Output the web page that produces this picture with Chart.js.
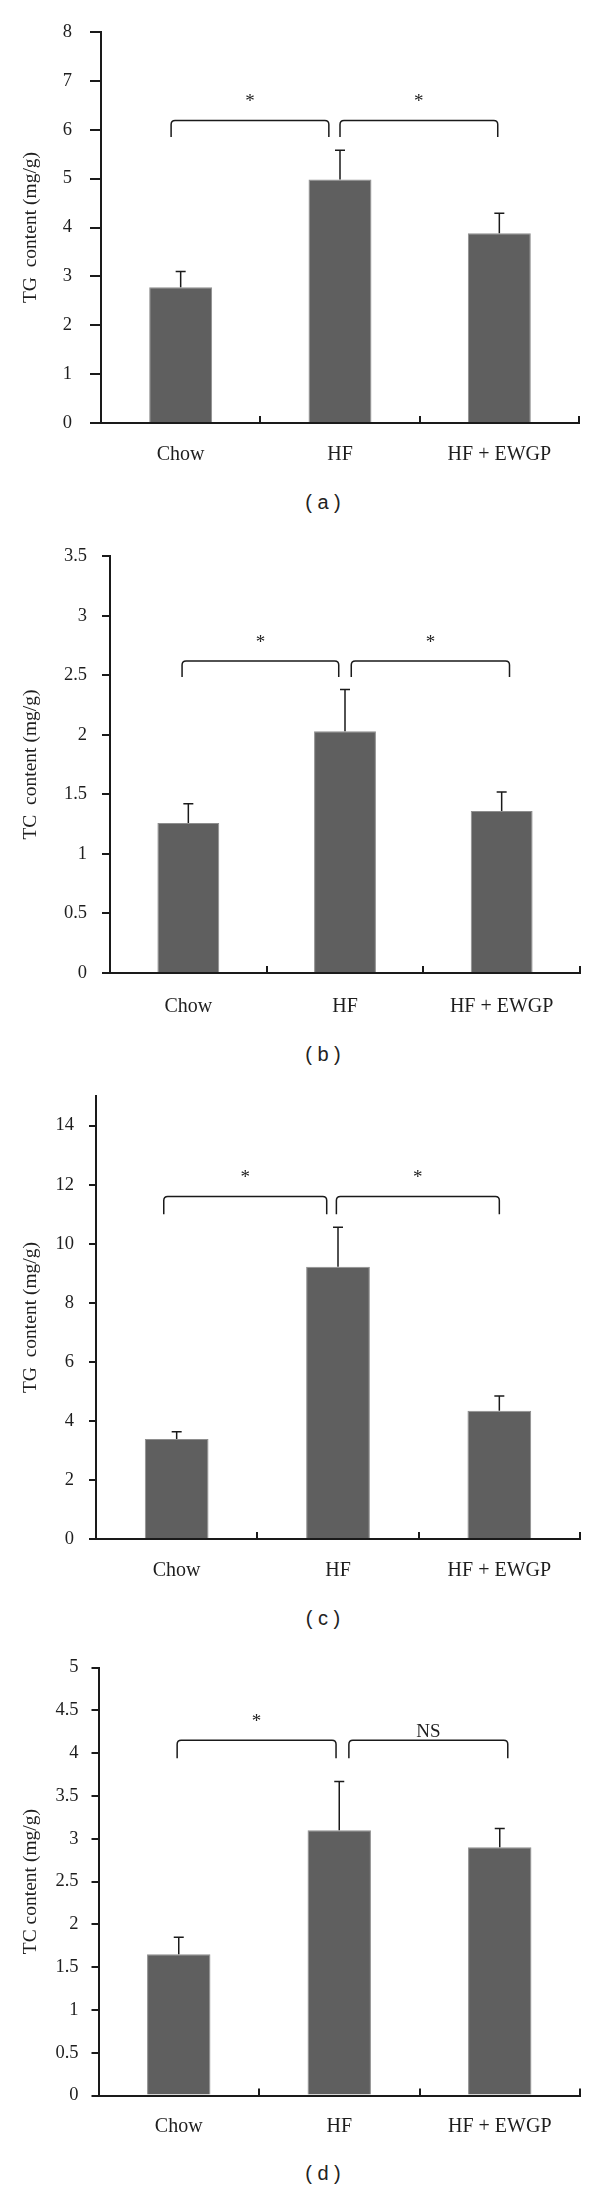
<!DOCTYPE html>
<html>
<head>
<meta charset="utf-8">
<script src="https://cdn.jsdelivr.net/npm/chart.js@4.4.1/dist/chart.umd.min.js"></script>
<style>
  html, body { margin: 0; padding: 0; background: #fff; }
  body { position: relative; width: 600px; height: 2190px; overflow: hidden; }
  canvas { position: absolute; left: 0; }
  .caption { position: absolute; left: 273px; width: 100px; height: 24px; line-height: 24px; text-align: center;
    font: 20px "Liberation Sans", Arial, sans-serif; color: #222; white-space: pre; }
</style>
</head>
<body>
<canvas id="chart-a"></canvas>
<canvas id="chart-b"></canvas>
<canvas id="chart-c"></canvas>
<canvas id="chart-d"></canvas>
<div class="caption" id="cap-a">( a )</div>
<div class="caption" id="cap-b">( b )</div>
<div class="caption" id="cap-c">( c )</div>
<div class="caption" id="cap-d">( d )</div>
<script>
const categories = ["Chow", "HF", "HF + EWGP"]

// (a) TG content
const aMean = [2.78, 4.98, 3.88]
const aErr = [0.32, 0.60, 0.41]
const aTicks = [0, 1, 2, 3, 4, 5, 6, 7, 8]
const aSig = ["*", "*"]
const aSigFrom = [-0.06, 1.0]
const aSigTo = [0.93, 1.99]
const aSigLevel = [6.19, 5.85]

// (b) TC content
const bMean = [1.26, 2.03, 1.36]
const bErr = [0.16, 0.35, 0.16]
const bTicks = [0, 0.5, 1, 1.5, 2, 2.5, 3, 3.5]
const bSig = ["*", "*"]
const bSigFrom = [-0.04, 1.04]
const bSigTo = [0.96, 2.05]
const bSigLevel = [2.62, 2.485]

// (c) TG content
const cMean = [3.39, 9.22, 4.34]
const cErr = [0.24, 1.34, 0.50]
const cTicks = [0, 2, 4, 6, 8, 10, 12, 14]
const cSig = ["*", "*"]
const cSigFrom = [-0.08, 0.99]
const cSigTo = [0.93, 2.0]
const cSigLevel = [11.6, 11.0]

// (d) TC content
const dMean = [1.65, 3.10, 2.90]
const dErr = [0.20, 0.57, 0.22]
const dTicks = [0, 0.5, 1, 1.5, 2, 2.5, 3, 3.5, 4, 4.5, 5]
const dSig = ["*", "NS"]
const dSigFrom = [-0.01, 1.06]
const dSigTo = [0.98, 2.05]
const dSigLevel = [4.15, 3.94]

const SERIF = '"Liberation Serif", "Times New Roman", serif'
const INK = "#1e1e1e"
const AXIS = "#1a1a1a"
const BAR = "#5f5f5f"
const BAR_EDGE = "#8e8e8e"

const panels = [
  { id: "a", title: "TG  content (mg/g)", mean: aMean, err: aErr, ticks: aTicks, max: 8,
    sig: aSig, sigFrom: aSigFrom, sigTo: aSigTo, sigLevel: aSigLevel,
    top: 0, height: 485, left: 101, right: 579, plotTop: 32, zero: 423, yTick: 11, yPad: 18, xPad: 27, caption: 503 },
  { id: "b", title: "TC  content (mg/g)", mean: bMean, err: bErr, ticks: bTicks, max: 3.5,
    sig: bSig, sigFrom: bSigFrom, sigTo: bSigTo, sigLevel: bSigLevel,
    top: 530, height: 505, left: 110, right: 580, plotTop: 552, zero: 973, yTick: 8, yPad: 15, xPad: 29, caption: 1055 },
  { id: "c", title: "TG  content (mg/g)", mean: cMean, err: cErr, ticks: cTicks, max: 15,
    sig: cSig, sigFrom: cSigFrom, sigTo: cSigTo, sigLevel: cSigLevel,
    top: 1070, height: 535, left: 96, right: 580, plotTop: 1092, zero: 1539, yTick: 7, yPad: 15, xPad: 27, caption: 1619 },
  { id: "d", title: "TC content (mg/g)", mean: dMean, err: dErr, ticks: dTicks, max: 5,
    sig: dSig, sigFrom: dSigFrom, sigTo: dSigTo, sigLevel: dSigLevel,
    top: 1640, height: 520, left: 98.5, right: 580, plotTop: 1667.6, zero: 2095.6, yTick: 7, yPad: 13, xPad: 26, caption: 2174 }
]

const errorBars = (p) => ({
  id: "errorBars",
  afterDatasetsDraw(chart) {
    const { ctx, scales: { y } } = chart
    ctx.save()
    ctx.strokeStyle = AXIS
    ctx.lineWidth = 1.5
    chart.getDatasetMeta(0).data.forEach((bar, i) => {
      const yTop = y.getPixelForValue(p.mean[i] + p.err[i])
      ctx.beginPath()
      ctx.moveTo(bar.x, bar.y)
      ctx.lineTo(bar.x, yTop)
      ctx.moveTo(bar.x - 5, yTop)
      ctx.lineTo(bar.x + 5, yTop)
      ctx.stroke()
    })
    ctx.restore()
  }
})

const brackets = (p) => ({
  id: "brackets",
  afterDraw(chart) {
    const { ctx, scales: { x, y } } = chart
    const top = y.getPixelForValue(p.sigLevel[0])
    const foot = y.getPixelForValue(p.sigLevel[1])
    const r = 4
    ctx.save()
    ctx.strokeStyle = AXIS
    ctx.lineWidth = 1.5
    ctx.fillStyle = INK
    ctx.textAlign = "center"
    ctx.textBaseline = "alphabetic"
    ctx.font = `19px ${SERIF}`
    p.sig.forEach((label, i) => {
      const x1 = x.getPixelForValue(p.sigFrom[i])
      const x2 = x.getPixelForValue(p.sigTo[i])
      ctx.beginPath()
      ctx.moveTo(x1, foot)
      ctx.lineTo(x1, top + r)
      ctx.quadraticCurveTo(x1, top, x1 + r, top)
      ctx.lineTo(x2 - r, top)
      ctx.quadraticCurveTo(x2, top, x2, top + r)
      ctx.lineTo(x2, foot)
      ctx.stroke()
      ctx.fillText(label, (x1 + x2) / 2, top - (label === "*" ? 13 : 3))
    })
    ctx.restore()
  }
})

function makeChart(p) {
  const canvas = document.getElementById("chart-" + p.id)
  canvas.width = 600
  canvas.height = p.height
  canvas.style.top = p.top + "px"
  document.getElementById("cap-" + p.id).style.top = (p.caption - 12) + "px"

  return new Chart(canvas, {
    type: "bar",
    data: {
      labels: categories,
      datasets: [{
        data: p.mean,
        backgroundColor: BAR,
        borderColor: BAR_EDGE,
        borderWidth: 1,
        barPercentage: 1,
        categoryPercentage: 0.395
      }]
    },
    options: {
      responsive: false,
      animation: false,
      devicePixelRatio: 1,
      layout: { padding: { left: 0, right: 600 - p.right, top: p.plotTop - p.top, bottom: 0 } },
      plugins: { legend: { display: false }, tooltip: { enabled: false } },
      scales: {
        x: {
          offset: true,
          grid: { offset: true, drawOnChartArea: false, drawTicks: true, tickLength: -7, color: AXIS, lineWidth: 2 },
          border: { color: AXIS, width: 2 },
          ticks: { color: INK, font: { family: SERIF, size: 20 }, padding: p.xPad, maxRotation: 0, autoSkip: false },
          afterFit: (scale) => { scale.height = p.top + p.height - p.zero }
        },
        y: {
          min: 0,
          max: p.max,
          afterBuildTicks: (scale) => { scale.ticks = p.ticks.map((v) => ({ value: v })) },
          grid: { drawOnChartArea: false, tickLength: p.yTick, color: AXIS, lineWidth: 2 },
          border: { color: AXIS, width: 2 },
          ticks: { color: INK, font: { family: SERIF, size: 18.5 }, padding: p.yPad, callback: (v) => String(v) },
          title: { display: true, text: p.title, color: INK, font: { family: SERIF, size: 19.5 }, padding: { top: 19, bottom: 0 } },
          afterFit: (scale) => { scale.width = p.left }
        }
      }
    },
    plugins: [errorBars(p), brackets(p)]
  })
}

panels.forEach(makeChart)
</script>
</body>
</html>
